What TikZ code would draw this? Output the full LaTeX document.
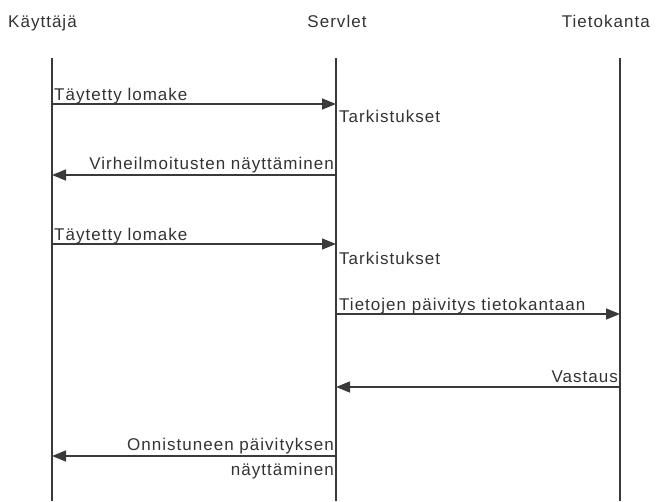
\documentclass[tikz,border=0pt]{standalone}
\usepackage{fontspec}
\setmainfont[LetterSpace=6]{Liberation Sans}
\usetikzlibrary{arrows.meta}
\definecolor{ink}{HTML}{333333}
\definecolor{linec}{HTML}{3A3A3A}
\tikzset{
  lbl/.style={inner sep=0pt, text=ink, font=\fontsize{17}{20}\selectfont},
  lifeline/.style={draw=linec, line width=1.3pt},
  msg/.style={draw=linec, line width=1.5pt, -{Triangle[length=14pt,width=11pt]}},
}
\begin{document}
\begin{tikzpicture}[x=1pt,y=-1pt]
\useasboundingbox (0,0) rectangle (656,501);
% heads
\node[lbl, anchor=base west] (hu) at (8,27) {Käyttäjä};
\node[lbl, anchor=base] (hs) at (337,27) {Servlet};
\node[lbl, anchor=base east] (hd) at (650,27) {Tietokanta};
% lifelines
\coordinate (ut) at (52,58);  \coordinate (ub) at (52,501);
\coordinate (st) at (336,58); \coordinate (sb) at (336,501);
\coordinate (dt) at (620,58); \coordinate (db) at (620,501);
\draw[lifeline] (ut) -- (ub);
\draw[lifeline] (st) -- (sb);
\draw[lifeline] (dt) -- (db);
% message anchor points
\coordinate (u1) at (52,104);  \coordinate (s1) at (336,104);
\coordinate (u2) at (52,175);  \coordinate (s2) at (336,175);
\coordinate (u3) at (52,244);  \coordinate (s3) at (336,244);
\coordinate (s4) at (336,314); \coordinate (d4) at (620,314);
\coordinate (s5) at (336,387); \coordinate (d5) at (620,387);
\coordinate (u6) at (52,456);  \coordinate (s6) at (336,456);
% messages
\draw[msg] (u1) -- (s1);
\node[lbl, anchor=base west] (m1) at (54,100) {Täytetty lomake};
\node[lbl, anchor=base west] (t1) at (339,122) {Tarkistukset};
\draw[msg] (s2) -- (u2);
\node[lbl, anchor=base east] (m2) at (334,169) {Virheilmoitusten näyttäminen};
\draw[msg] (u3) -- (s3);
\node[lbl, anchor=base west] (m3) at (54,240) {Täytetty lomake};
\node[lbl, anchor=base west] (t3) at (339,264) {Tarkistukset};
\draw[msg] (s4) -- (d4);
\node[lbl, anchor=base west] (m4) at (339,310) {Tietojen päivitys tietokantaan};
\draw[msg] (d5) -- (s5);
\node[lbl, anchor=base east] (m5) at (618,382) {Vastaus};
\draw[msg] (s6) -- (u6);
\node[lbl, anchor=base east] (m6a) at (334,450) {Onnistuneen päivityksen};
\node[lbl, anchor=base east] (m6b) at (334,475) {näyttäminen};
\end{tikzpicture}
\end{document}
